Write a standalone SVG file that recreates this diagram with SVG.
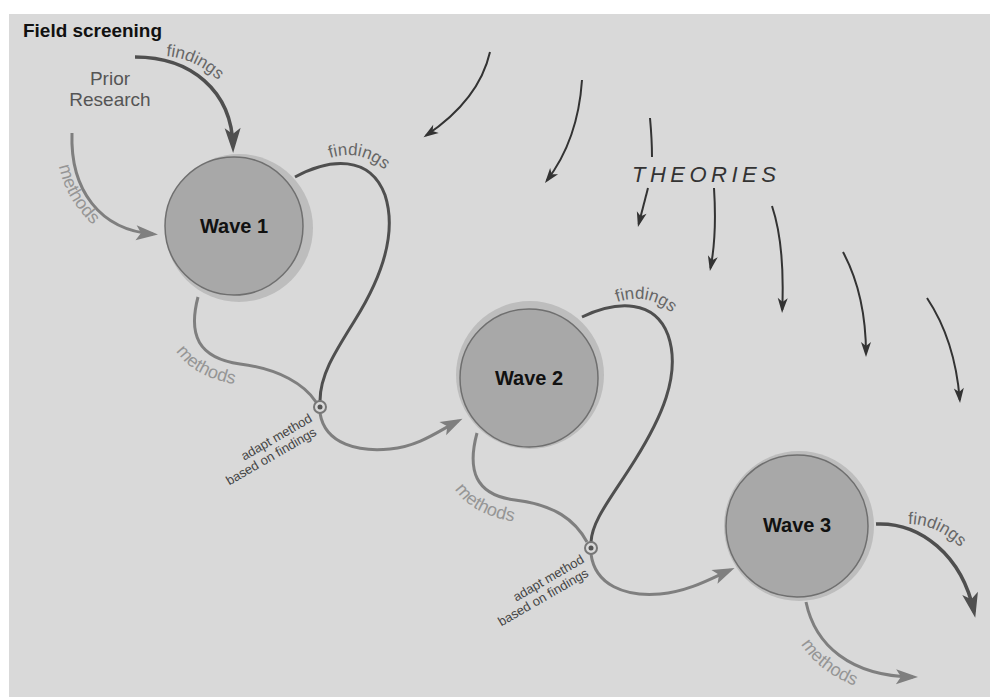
<svg xmlns="http://www.w3.org/2000/svg" width="990" height="697" viewBox="0 0 990 697">
<style>
.bg{fill:#d9d9d9}
.halo{fill:#bdbdbd}
.wave{fill:#a8a8a8;stroke:#6f6f6f;stroke-width:1.5}
.wlabel{font-family:"Liberation Sans",Arial,sans-serif;font-weight:bold;font-size:20px;fill:#111;text-anchor:middle}
.dark{fill:none;stroke:#4f4f4f;stroke-width:3.5}
.darkthin{fill:none;stroke:#4f4f4f;stroke-width:3}
.gray{fill:none;stroke:#7f7f7f;stroke-width:3}
.theo{fill:none;stroke:#333;stroke-width:2}
.flab{font-family:"Liberation Sans",Arial,sans-serif;font-size:17px;fill:#666}
.mlab{font-family:"Liberation Sans",Arial,sans-serif;font-size:18px;fill:#959595}
.adapt{font-family:"Liberation Sans",Arial,sans-serif;font-size:13px;fill:#444;text-anchor:end}
.ring{fill:#d9d9d9;stroke:#777;stroke-width:2}
.dot{fill:#555}
</style>
<defs>
<marker id="hDark" markerUnits="userSpaceOnUse" orient="auto" overflow="visible" markerWidth="1" markerHeight="1"><path d="M6,0 L-19,-8 L-13,0 L-19,8 Z" fill="#4f4f4f"/></marker>
<marker id="hGray" markerUnits="userSpaceOnUse" orient="auto" overflow="visible" markerWidth="1" markerHeight="1"><path d="M5,0 L-17,-7.5 L-12,0 L-17,7.5 Z" fill="#7f7f7f"/></marker>
<marker id="hTheo" markerUnits="userSpaceOnUse" orient="auto" overflow="visible" markerWidth="1" markerHeight="1"><path d="M3,0 L-12,-5 L-8,0 L-12,5 Z" fill="#333"/></marker>
<path id="tpPF" d="M166,56 C188,58 208,68 228,90"/>
<path id="tpPM" d="M59,166 C65,195 80,216 110,240"/>
<path id="tpF1" d="M330,158 C355,150 380,158 399,187"/>
<path id="tpM1" d="M176,351 C189,371 214,383 254,387"/>
<path id="tpF2" d="M617,302 C645,293 668,302 690,334"/>
<path id="tpM2" d="M455,489 C467,508 490,520 532,524"/>
<path id="tpF3" d="M908,524 C932,524 955,537 974,563"/>
<path id="tpM3" d="M801,644 C814,665 836,681 872,692"/>
</defs>
<rect x="0" y="0" width="990" height="697" fill="#ffffff"/>
<rect class="bg" x="9" y="14" width="981" height="683"/>
<text x="23" y="37" font-family="Liberation Sans,Arial,sans-serif" font-weight="bold" font-size="18" textLength="139" lengthAdjust="spacingAndGlyphs" fill="#111">Field screening</text>
<g id="prior">
<text x="110" y="85" font-family="Liberation Sans,Arial,sans-serif" font-size="19" fill="#555" text-anchor="middle">Prior</text>
<text x="110" y="106" font-family="Liberation Sans,Arial,sans-serif" font-size="19" fill="#555" text-anchor="middle">Research</text>
</g>
<g id="theories">
<text x="632" y="182" font-family="Liberation Sans,Arial,sans-serif" font-style="italic" font-size="22" letter-spacing="4.5" fill="#333">THEORIES</text>
</g>
<g id="wave1">
<circle class="halo" cx="239" cy="228" r="74"/>
<circle class="wave" cx="234" cy="226" r="69"/>
<text class="wlabel" x="234" y="233">Wave 1</text>
</g>
<g id="wave2">
<circle class="halo" cx="530" cy="375" r="74"/>
<circle class="wave" cx="529" cy="378" r="69"/>
<text class="wlabel" x="529" y="385">Wave 2</text>
</g>
<g id="wave3">
<circle class="halo" cx="799" cy="526" r="75"/>
<circle class="wave" cx="797" cy="526" r="71"/>
<text class="wlabel" x="797" y="532">Wave 3</text>
</g>
<g id="connectors">
<path class="dark" d="M135,57 C190,57 232,90 233,147" marker-end="url(#hDark)" stroke-width="4"/>
<path class="gray" d="M72,133 C70,190 100,230 153,234" marker-end="url(#hGray)" stroke-width="3.5"/>
<path class="darkthin" d="M295,177 C330,158 370,155 385,195 C398,235 380,280 355,320 C335,352 320,375 320,401"/>
<path class="gray" d="M198,297 C188,335 198,358 240,364 C280,369 305,385 316,402"/>
<path class="gray" d="M320,413 C325,445 360,452 390,449 C420,446 440,430 458,421" marker-end="url(#hGray)"/>
<path class="darkthin" d="M582,317 C618,300 655,300 668,335 C682,375 660,420 635,460 C612,497 592,520 591,542"/>
<path class="gray" d="M477,433 C467,470 475,495 515,500 C555,505 575,520 587,542"/>
<path class="gray" d="M591,554 C595,585 625,597 660,594 C690,591 712,578 730,570" marker-end="url(#hGray)"/>
<path class="dark" d="M876,524 C920,522 962,555 974,612" marker-end="url(#hDark)" stroke-width="4"/>
<path class="gray" d="M806,602 C815,645 850,676 913,677" marker-end="url(#hGray)" stroke-width="3.5"/>
<path class="theo" d="M490,52 Q479,100 426,135.5" marker-end="url(#hTheo)"/>
<path class="theo" d="M582,80 Q578,140 546.8,180.6" marker-end="url(#hTheo)"/>
<path class="theo" d="M650,118 Q652,140 652,157"/>
<path class="theo" d="M648,188 L638.7,224.1" marker-end="url(#hTheo)"/>
<path class="theo" d="M714,188 Q717,235 710.5,268" marker-end="url(#hTheo)"/>
<path class="theo" d="M772,206 Q785,245 782.2,310" marker-end="url(#hTheo)"/>
<path class="theo" d="M843,252 Q866,295 866,354" marker-end="url(#hTheo)"/>
<path class="theo" d="M927,298 Q955,340 959.8,400" marker-end="url(#hTheo)"/>
<circle class="ring" cx="320" cy="407" r="6"/>
<circle class="dot" cx="320" cy="407" r="2.5"/>
<circle class="ring" cx="591" cy="548" r="6"/>
<circle class="dot" cx="591" cy="548" r="2.5"/>
<text class="flab"><textPath href="#tpPF">findings</textPath></text>
<text class="mlab"><textPath href="#tpPM">methods</textPath></text>
<text class="flab"><textPath href="#tpF1">findings</textPath></text>
<text class="mlab"><textPath href="#tpM1">methods</textPath></text>
<text class="flab"><textPath href="#tpF2">findings</textPath></text>
<text class="mlab"><textPath href="#tpM2">methods</textPath></text>
<text class="flab"><textPath href="#tpF3">findings</textPath></text>
<text class="mlab"><textPath href="#tpM3">methods</textPath></text>
<g transform="translate(313,421) rotate(-30)">
<text class="adapt" x="0" y="0">adapt method</text>
<text class="adapt" x="-3" y="14">based on findings</text>
</g>
<g transform="translate(585,562) rotate(-30)">
<text class="adapt" x="0" y="0">adapt method</text>
<text class="adapt" x="-3" y="14">based on findings</text>
</g>
</g>
</svg>
